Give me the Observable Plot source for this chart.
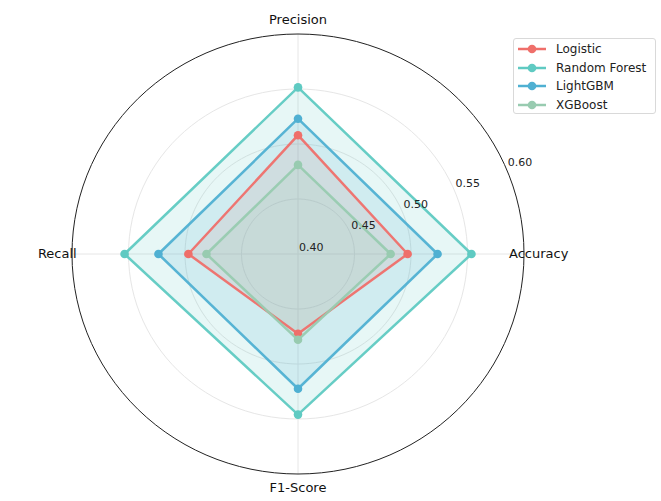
<!DOCTYPE html>
<html>
<head>
<meta charset="utf-8">
<script src="https://cdn.jsdelivr.net/npm/d3@7"></script>
<script src="https://cdn.jsdelivr.net/npm/@observablehq/plot@0.6"></script>
<style>
  html, body { margin: 0; padding: 0; background: #fff; }
  #wrap { position: relative; width: 661px; height: 501px; overflow: hidden; font-family: "DejaVu Sans", sans-serif; }
  #legend { position: absolute; left: 513px; top: 38px; width: 141px; height: 74px; border: 1px solid #d9d9d9; border-radius: 3px; background: rgba(255,255,255,0.85); }
  .item { position: absolute; left: 0; height: 18px; display: flex; align-items: center; font-size: 12px; color: #222; }
  .item svg { margin-left: 3px; margin-right: 9px; }
</style>
</head>
<body>
<div id="wrap"><div id="chart"></div><div id="legend"></div></div>
<script>
const axesNames = ["Accuracy", "Precision", "Recall", "F1-Score"];
const models = ["Logistic", "Random Forest", "LightGBM", "XGBoost"];
const logistic = [0.497, 0.508, 0.497, 0.4725];
const randomForest = [0.5535, 0.5515, 0.5535, 0.546];
const lightgbm = [0.5235, 0.523, 0.5235, 0.5225];
const xgboost = [0.482, 0.481, 0.481, 0.478];
const colors = ["#ef6f6a", "#5fcac2", "#4fb0d2", "#98cbb0"];
const rTicks = [0.40, 0.45, 0.50, 0.55, 0.60];
const rMin = 0.40, rMax = 0.60;

const series = [logistic, randomForest, lightgbm, xgboost];
const ang = i => (i * Math.PI) / 2; // Accuracy at right, counter-clockwise
const norm = v => (v - rMin) / (rMax - rMin);

const rows = [];
series.forEach((vals, m) => {
  vals.forEach((v, i) => {
    rows.push({model: models[m], axis: axesNames[i], value: v,
      x: norm(v) * Math.cos(ang(i)), y: norm(v) * Math.sin(ang(i))});
  });
});

const circle = (v) => d3.range(0, 361, 3).map(a => {
  const t = a * Math.PI / 180;
  return {r: v, x: norm(v) * Math.cos(t), y: norm(v) * Math.sin(t)};
});
const gridPts = rTicks.filter(v => v > rMin && v < rMax).flatMap(circle);
const outerPts = circle(rMax);
const spokes = axesNames.map((a, i) => ({axis: a, x: Math.cos(ang(i)), y: Math.sin(ang(i))}));
const axisLabels = axesNames.map((a, i) => ({axis: a, x: 1.065 * Math.cos(ang(i)), y: 1.065 * Math.sin(ang(i))}));
const tickAng = 22.5 * Math.PI / 180;
const tickLabels = rTicks.map(v => ({label: v.toFixed(2), x: norm(v) * Math.cos(tickAng), y: norm(v) * Math.sin(tickAng)}));

const cx = 297.5, cy = 253.5, Rx = 226, Ry = 220;

const marks = [
  Plot.line(gridPts, {x: "x", y: "y", z: "r", stroke: "#e6e6e6", strokeWidth: 1}),
  Plot.link(spokes, {x1: 0, y1: 0, x2: "x", y2: "y", stroke: "#e6e6e6", strokeWidth: 1}),
];
models.forEach((m, k) => {
  const d = rows.filter(r => r.model === m);
  marks.push(Plot.line(d, {x: "x", y: "y", curve: "linear-closed", fill: colors[k], fillOpacity: 0.15, stroke: "none"}));
});
models.forEach((m, k) => {
  const d = rows.filter(r => r.model === m);
  marks.push(Plot.line(d, {x: "x", y: "y", curve: "linear-closed", stroke: colors[k], strokeWidth: 2.5, strokeOpacity: 0.95}));
  marks.push(Plot.dot(d, {x: "x", y: "y", r: 4.3, fill: colors[k], stroke: "none"}));
});
marks.push(Plot.line(outerPts, {x: "x", y: "y", stroke: "#222", strokeWidth: 1}));
marks.push(Plot.text(tickLabels, {x: "x", y: "y", text: "label", textAnchor: "start", dx: 1, dy: -7, fontSize: 11, fill: "#222"}));
marks.push(Plot.text(axisLabels, {x: "x", y: "y", text: "axis", textAnchor: "middle", fontSize: 13, fill: "#111"}));

const chart = Plot.plot({
  width: 661, height: 501,
  margin: 0,
  style: {fontFamily: "DejaVu Sans, sans-serif", background: "transparent"},
  x: {domain: [-1, 1], range: [cx - Rx, cx + Rx], axis: null},
  y: {domain: [-1, 1], range: [cy + Ry, cy - Ry], axis: null},
  marks
});
document.getElementById("chart").appendChild(chart);

const legend = document.getElementById("legend");
models.forEach((m, k) => {
  const it = document.createElement("div");
  it.className = "item";
  it.style.top = (1 + k * 18.5) + "px";
  it.innerHTML = `<svg width="30" height="12"><line x1="1" y1="6" x2="29" y2="6" stroke="${colors[k]}" stroke-width="2.5"/><circle cx="15" cy="6" r="4.3" fill="${colors[k]}"/></svg><span>${m}</span>`;
  legend.appendChild(it);
});
</script>
</body>
</html>
